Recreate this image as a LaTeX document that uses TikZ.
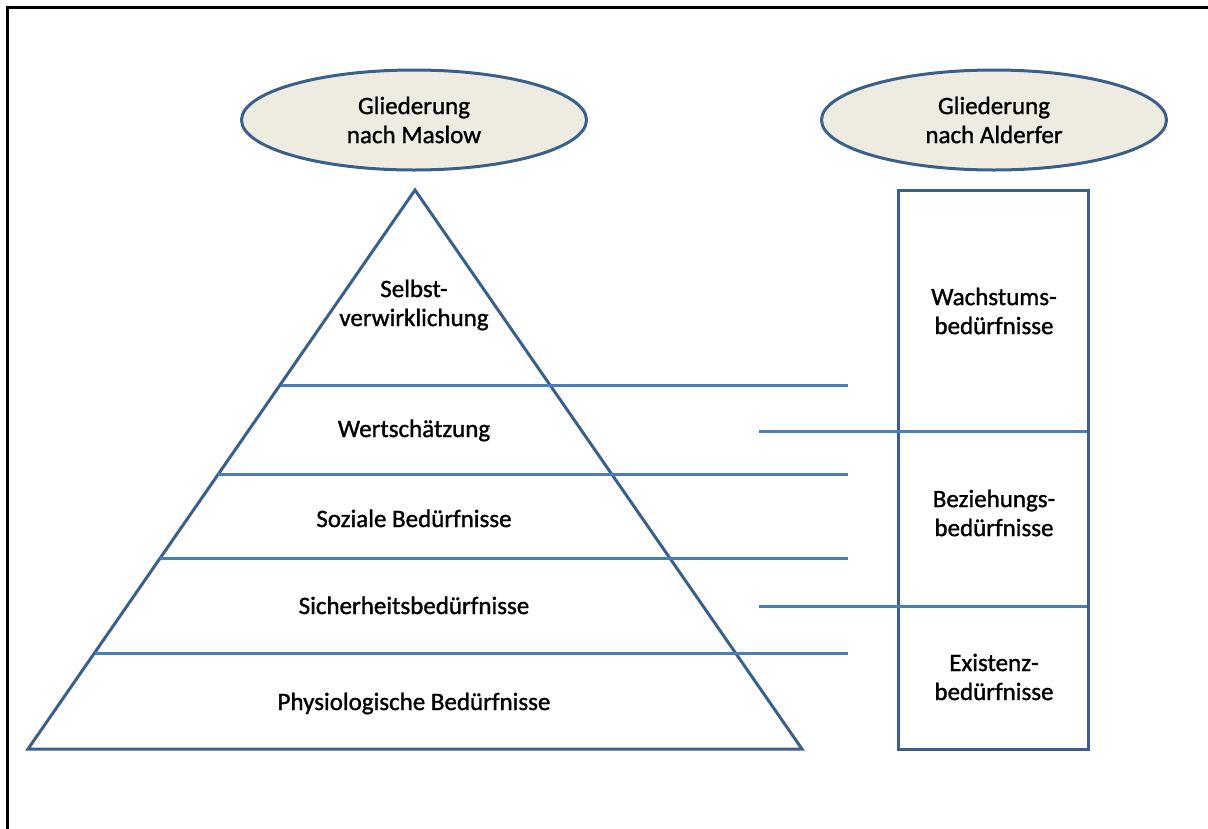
\documentclass[tikz,border=0pt]{standalone}
\usepackage{fontspec}
\setmainfont{Carlito}[BoldFont={Carlito},BoldFeatures={FakeBold=1.2}]
\usetikzlibrary{shapes.geometric}
\definecolor{outl}{HTML}{3A5F8B}
\definecolor{lin}{HTML}{4A7EBB}
\definecolor{tan}{HTML}{EEECE1}
\begin{document}
\begin{tikzpicture}[x=1pt,y=-1pt,
  every node/.style={font=\fontsize{25}{29}\selectfont\bfseries, align=center, inner sep=0pt},
  hdr/.style={ellipse, draw=outl, fill=tan, line width=3pt, minimum width=345pt, minimum height=100pt},
  shp/.style={draw=outl, line width=3pt, line join=miter},
  lvl/.style={draw=lin, line width=3pt},
  lbl/.style={anchor=base}]
\useasboundingbox (0,0) rectangle (1208,828);
\draw[line width=3pt] (7,830) -- (7,7) -- (1210,7);
% headers
\node[hdr] (maslow) at (414,120) {Gliederung\\nach Maslow};
\node[hdr] (alderfer) at (994,120) {Gliederung\\nach Alderfer};
% pyramid
\coordinate (apex) at (415,190);
\coordinate (bl) at (28,749);
\coordinate (br) at (802,749);
\draw[shp] (apex) -- (bl) -- (br) -- cycle;
% Alderfer box
\draw[shp] (898,190) rectangle (1088,749);
% level lines
\coordinate (l1a) at (281,385); \coordinate (l1b) at (848,385);
\coordinate (l2a) at (218,474); \coordinate (l2b) at (848,474);
\coordinate (l3a) at (160,558); \coordinate (l3b) at (848,558);
\coordinate (l4a) at (95,653);  \coordinate (l4b) at (848,653);
\coordinate (r1a) at (759,431); \coordinate (r1b) at (1087,431);
\coordinate (r2a) at (759,606); \coordinate (r2b) at (1087,606);
\draw[lvl] (l1a) -- (l1b);
\draw[lvl] (l2a) -- (l2b);
\draw[lvl] (l3a) -- (l3b);
\draw[lvl] (l4a) -- (l4b);
\draw[lvl] (r1a) -- (r1b);
\draw[lvl] (r2a) -- (r2b);
% pyramid labels
\node (selbst) at (414,305) {Selbst-\\verwirklichung};
\node[lbl] (wert) at (414,437) {Wertschätzung};
\node[lbl] (sozial) at (414,527) {Soziale Bedürfnisse};
\node[lbl] (sicher) at (414,614) {Sicherheitsbedürfnisse};
\node[lbl] (phys) at (414,710) {Physiologische Bedürfnisse};
% Alderfer labels
\node (wachs) at (994,311) {Wachstums-\\bedürfnisse};
\node (bez) at (994,513) {Beziehungs-\\bedürfnisse};
\node (exist) at (994,677) {Existenz-\\bedürfnisse};
\end{tikzpicture}
\end{document}
